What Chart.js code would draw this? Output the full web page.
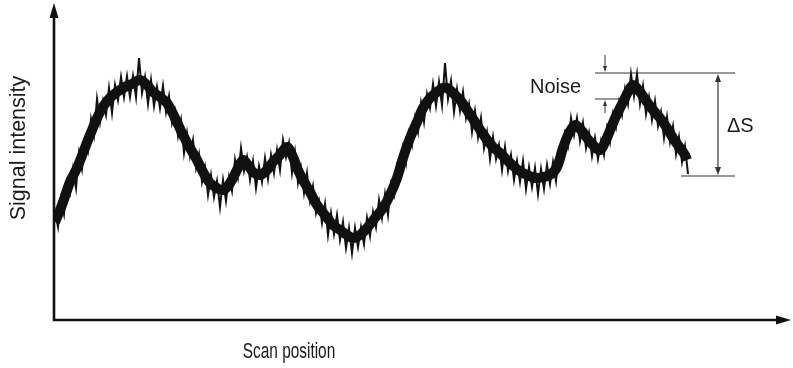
<!DOCTYPE html>
<html>
<head>
<meta charset="utf-8">
<script src="https://cdn.jsdelivr.net/npm/chart.js@4/dist/chart.umd.min.js"></script>
<style>
  body { margin: 0; background: #fff; }
  canvas { display: block; }
</style>
</head>
<body>
<canvas id="signalChart" width="793" height="368"></canvas>
<script>
// scan positions are sampled every 3 units starting at 1
const sampleStart = 1;
const sampleStep = 3;

// raw (noisy) signal intensity
const rawSignal = [
  108, 93, 121, 106, 138, 127, 151, 132, 167, 151, 180, 169, 201, 185, 221, 198,
  219, 205, 232, 207, 235, 220, 243, 223, 244, 223, 244, 223, 262, 227, 243, 216,
  240, 214, 233, 212, 234, 208, 224, 197, 209, 184, 200, 167, 187, 164, 180, 152,
  166, 138, 153, 125, 145, 123, 139, 113, 140, 119, 143, 129, 160, 143, 172, 149,
  163, 140, 159, 132, 154, 138, 162, 141, 165, 147, 170, 150, 180, 163, 177, 147,
  168, 137, 152, 127, 147, 119, 134, 107, 119, 97, 116, 85, 107, 86, 105, 80,
  98, 72, 92, 67, 92, 73, 93, 76, 102, 84, 108, 93, 120, 102, 126, 105,
  136, 125, 154, 144, 172, 157, 187, 175, 202, 188, 217, 198, 226, 212, 236, 214,
  238, 215, 257, 221, 239, 208, 231, 209, 228, 202, 216, 188, 209, 183, 202, 172,
  188, 161, 183, 161, 175, 150, 173, 149, 165, 140, 159, 138, 159, 131, 153, 133,
  152, 126, 151, 131, 155, 136, 158, 139, 168, 158, 186, 174, 202, 185, 202, 179,
  197, 172, 187, 164, 182, 161, 179, 165, 192, 178, 206, 193, 218, 205, 231, 216,
  246, 224, 246, 216, 234, 206, 223, 200, 219, 194, 208, 182, 203, 178, 194, 166,
  183, 158, 174, 146
];

// smoothed trace under the noise
const trendX = [
  1, 8, 16, 23, 29, 36, 46, 54, 63, 71, 78, 86, 93, 99, 106, 113, 121, 129, 136, 143,
  149, 156, 163, 169, 174, 179, 184, 189, 194, 199, 206, 213, 219, 226, 233, 239, 244,
  249, 256, 263, 271, 279, 286, 293, 299, 306, 313, 321, 329, 336, 343, 349, 356, 363,
  369, 376, 383, 389, 393, 399, 406, 413, 423, 431, 439, 446, 456, 464, 473, 481, 489,
  496, 503, 509, 515, 521, 527, 533, 539, 546, 552, 559, 564, 569, 574, 579, 586, 593,
  599, 606, 613, 619, 626, 631, 633
];
const trendY = [
  98, 115, 138, 152, 167, 185, 208, 220, 228, 233, 236, 240, 235, 228, 223, 217, 202, 185, 172, 160,
  148, 137, 132, 130, 134, 142, 152, 160, 155, 148, 145, 150, 158, 165, 173, 163, 150,
  140, 128, 115, 105, 95, 90, 85, 82, 85, 92, 102, 112, 125, 142, 162, 182, 198,
  212, 222, 228, 232, 232, 227, 220, 210, 195, 183, 173, 167, 157, 150, 145, 142, 143,
  145, 153, 172, 187, 195, 190, 182, 175, 170, 180, 197, 208, 218, 228, 235, 228, 218,
  210, 202, 192, 182, 172, 165, 160
];

// annotation levels
const peakLevel = 247;
const noiseFloorLevel = 221;
const endLevel = 144;
const peakLineFrom = 541;
const noiseLineTo = 566;
const endLineFrom = 627;
const markerTo = 681;
const noiseArrowAt = 551;
const deltaArrowAt = 664;

const xMax = 737;
const yMax = 317;

const rawPoints = rawSignal.map((v, i) => ({ x: sampleStart + i * sampleStep, y: v }));
const trendPoints = trendX.map((x, i) => ({ x: x, y: trendY[i] }));

function arrowHead(ctx, x, y, dir, w, h) {
    ctx.beginPath();
    ctx.moveTo(x, y);
    ctx.lineTo(x - w / 2, y - dir * h);
    ctx.lineTo(x + w / 2, y - dir * h);
    ctx.closePath();
    ctx.fill();
}

const diagramPlugin = {
    id: 'diagram',
    afterDraw(chart) {
        const ctx = chart.ctx;
        const xs = chart.scales.x;
        const ys = chart.scales.y;
        const area = chart.chartArea;
        ctx.save();

        // axes with arrows
        ctx.strokeStyle = '#111';
        ctx.fillStyle = '#111';
        ctx.lineWidth = 2.6;
        ctx.beginPath();
        ctx.moveTo(area.left, area.top + 10);
        ctx.lineTo(area.left, area.bottom);
        ctx.lineTo(area.right - 10, area.bottom);
        ctx.stroke();
        arrowHead(ctx, area.left, area.top, -1, 9, 15);
        ctx.beginPath();
        ctx.moveTo(area.right, area.bottom);
        ctx.lineTo(area.right - 15, area.bottom - 4.5);
        ctx.lineTo(area.right - 15, area.bottom + 4.5);
        ctx.closePath();
        ctx.fill();

        // noise / delta S markers
        const yPeak = ys.getPixelForValue(peakLevel);
        const yFloor = ys.getPixelForValue(noiseFloorLevel);
        const yEnd = ys.getPixelForValue(endLevel);
        const xRight = xs.getPixelForValue(markerTo);
        ctx.strokeStyle = '#333';
        ctx.fillStyle = '#333';
        ctx.lineWidth = 1.2;
        ctx.beginPath();
        ctx.moveTo(xs.getPixelForValue(peakLineFrom), yPeak);
        ctx.lineTo(xRight, yPeak);
        ctx.moveTo(xs.getPixelForValue(peakLineFrom), yFloor);
        ctx.lineTo(xs.getPixelForValue(noiseLineTo), yFloor);
        ctx.moveTo(xs.getPixelForValue(endLineFrom), yEnd);
        ctx.lineTo(xRight, yEnd);
        ctx.stroke();

        const xn = xs.getPixelForValue(noiseArrowAt);
        ctx.lineWidth = 1;
        ctx.beginPath();
        ctx.moveTo(xn, yPeak - 18);
        ctx.lineTo(xn, yPeak - 4);
        ctx.moveTo(xn, yFloor + 14);
        ctx.lineTo(xn, yFloor + 4);
        ctx.stroke();
        arrowHead(ctx, xn, yPeak - 1, 1, 4, 6);
        arrowHead(ctx, xn, yFloor + 1, -1, 4, 6);

        const xd = xs.getPixelForValue(deltaArrowAt);
        ctx.lineWidth = 1.2;
        ctx.beginPath();
        ctx.moveTo(xd, yPeak + 6);
        ctx.lineTo(xd, yEnd - 6);
        ctx.stroke();
        arrowHead(ctx, xd, yPeak + 1, -1, 6, 8);
        arrowHead(ctx, xd, yEnd - 1, 1, 6, 8);

        // labels
        ctx.fillStyle = '#1a1a1a';
        ctx.textBaseline = 'middle';
        ctx.font = '20px "Liberation Sans", Arial, sans-serif';
        ctx.textAlign = 'left';
        ctx.fillText('Noise', xs.getPixelForValue(476), (yPeak + yFloor) / 2 + 1);
        ctx.fillText('\u0394S', xd + 9, (yPeak + yEnd) / 2 + 2);

        ctx.textAlign = 'center';
        ctx.save();
        ctx.translate(19, 148);
        ctx.rotate(-Math.PI / 2);
        ctx.font = '21.5px "Liberation Sans", Arial, sans-serif';
        ctx.fillText('Signal intensity', 0, 0);
        ctx.restore();

        ctx.save();
        ctx.translate(289, 352);
        ctx.scale(0.7, 1);
        ctx.font = '22px "Liberation Sans", Arial, sans-serif';
        ctx.fillText('Scan position', 0, 0);
        ctx.restore();

        ctx.restore();
    }
};

new Chart(document.getElementById('signalChart').getContext('2d'), {
    type: 'line',
    data: {
        datasets: [{
            label: 'Raw signal',
            data: rawPoints,
            borderColor: '#111',
            borderWidth: 2,
            pointRadius: 0,
            tension: 0
        }, {
            label: 'Trend',
            data: trendPoints,
            borderColor: '#111',
            borderWidth: 10,
            pointRadius: 0,
            tension: 0.35,
            borderCapStyle: 'butt',
            borderJoinStyle: 'round'
        }]
    },
    options: {
        responsive: false,
        animation: false,
        layout: { padding: { left: 54, right: 2, top: 3, bottom: 48 } },
        scales: {
            x: { type: 'linear', min: 0, max: xMax, display: false },
            y: { type: 'linear', min: 0, max: yMax, display: false }
        },
        plugins: {
            legend: { display: false },
            tooltip: { enabled: false }
        }
    },
    plugins: [diagramPlugin]
});
</script>
</body>
</html>
